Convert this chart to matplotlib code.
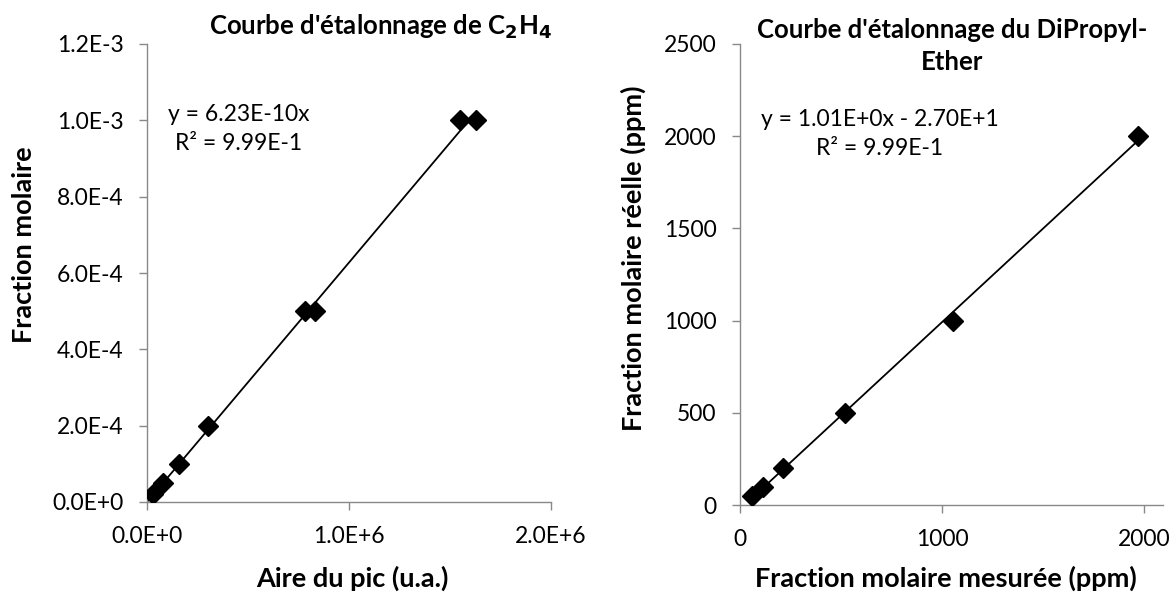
import numpy as np
import matplotlib
matplotlib.use("Agg")
import matplotlib.pyplot as plt
from matplotlib.ticker import FuncFormatter, MultipleLocator

plt.rcParams['font.family'] = ['Lato', 'DejaVu Sans']

# Left chart: C2H4 calibration
c2h4_area = [0.03e6, 0.079e6, 0.158e6, 0.302e6, 0.78e6, 0.83e6, 1.55e6, 1.63e6]
c2h4_frac = [2e-5, 5e-5, 1e-4, 2e-4, 5e-4, 5e-4, 1e-3, 1e-3]

# Right chart: DiPropyl-Ether calibration
dpe_measured = [59, 114, 213, 519, 1053, 1968]
dpe_real = [50, 100, 200, 500, 1000, 2000]

left_title = "Courbe d'étalonnage de C$_\\mathbf{2}$H$_\\mathbf{4}$"
right_title = "Courbe d'étalonnage du DiPropyl-\nEther"
left_eq = "y = 6.23E-10x\nR² = 9.99E-1"
right_eq = "y = 1.01E+0x - 2.70E+1\nR² = 9.99E-1"


def sci_fmt(v, pos):
    if v == 0:
        return "0.0E+0"
    e = int(np.floor(np.log10(abs(v)) + 1e-9))
    m = v / 10 ** e
    return f"{m:.1f}E{'+' if e >= 0 else '-'}{abs(e)}"


W, H = 1174, 595
fig = plt.figure(figsize=(W / 100, H / 100), dpi=100)

grey = '#898989'
TICK_FS = 16.5
LABEL_FS = 19.5
TITLE_FS = 18.5
EQ_FS = 16.5


def style(ax):
    for s in ['top', 'right']:
        ax.spines[s].set_visible(False)
    for s in ['left', 'bottom']:
        ax.spines[s].set_color(grey)
        ax.spines[s].set_linewidth(1.0)
    ax.tick_params(direction='out', length=6, width=1, color=grey,
                   labelsize=TICK_FS, labelcolor='black', pad=11)


def ftext(x, y, s, **kw):
    fig.text(x / W, 1 - y / H, s, ha='center', va='center', **kw)


# Left axes
axL = fig.add_axes([147 / W, 1 - 502 / H, (551 - 147) / W, (502 - 44) / H])
style(axL)
x = np.array(c2h4_area)
y = np.array(c2h4_frac)
slope = np.sum(x * y) / np.sum(x * x)
xs = np.array([0, x.max()])
axL.plot(xs, slope * xs, color='black', lw=1.3, zorder=2)
axL.plot(x, y, linestyle='none', marker='D', ms=10, color='black', zorder=3)
axL.set_xlim(0, 2.0e6)
axL.set_ylim(0, 1.2e-3)
axL.xaxis.set_major_locator(MultipleLocator(1.0e6))
axL.yaxis.set_major_locator(MultipleLocator(2e-4))
axL.xaxis.set_major_formatter(FuncFormatter(sci_fmt))
axL.yaxis.set_major_formatter(FuncFormatter(sci_fmt))
ftext(352, 578, "Aire du pic (u.a.)", fontsize=LABEL_FS, fontweight='bold')
ftext(24, 245, "Fraction molaire", fontsize=LABEL_FS, fontweight='bold', rotation=90)
ftext(380, 27, left_title, fontsize=TITLE_FS, fontweight='bold')
ftext(239, 129, left_eq, fontsize=EQ_FS, multialignment='center', linespacing=1.45)

# Right axes
axR = fig.add_axes([740 / W, 1 - 505 / H, (1163 - 740) / W, (505 - 44) / H])
style(axR)
xr = np.array(dpe_measured, dtype=float)
yr = np.array(dpe_real, dtype=float)
a, b = np.polyfit(xr, yr, 1)
xs = np.array([xr.min(), xr.max()])
axR.plot(xs, a * xs + b, color='black', lw=1.3, zorder=2)
axR.plot(xr, yr, linestyle='none', marker='D', ms=10, color='black', zorder=3)
axR.set_xlim(0, 2092)
axR.set_ylim(0, 2500)
axR.xaxis.set_major_locator(MultipleLocator(1000))
axR.yaxis.set_major_locator(MultipleLocator(500))
ftext(946, 578, "Fraction molaire mesurée (ppm)", fontsize=LABEL_FS, fontweight='bold')
ftext(633, 258, "Fraction molaire réelle (ppm)", fontsize=LABEL_FS, fontweight='bold', rotation=90)
ftext(952, 46, right_title, fontsize=TITLE_FS, fontweight='bold',
      multialignment='center', linespacing=1.4)
ftext(880, 134, right_eq, fontsize=EQ_FS, multialignment='center', linespacing=1.45)

fig.savefig("out.png", dpi=100, facecolor='white')
